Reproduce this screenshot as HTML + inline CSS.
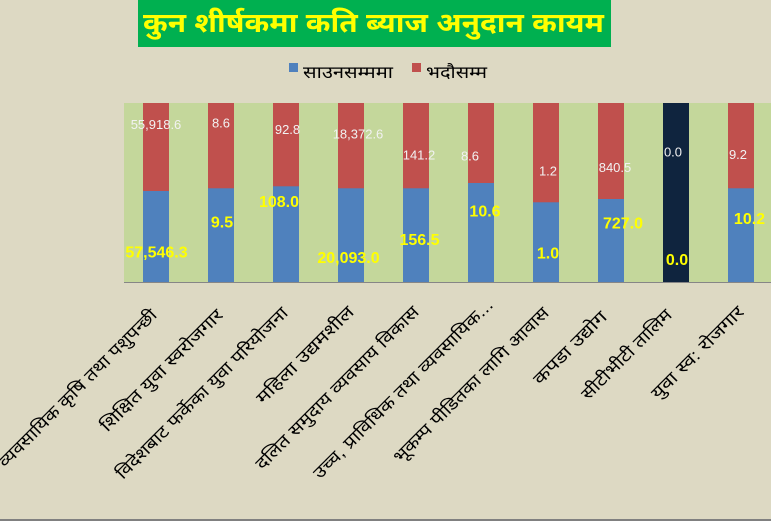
<!DOCTYPE html>
<html>
<head>
<meta charset="utf-8">
<style>
html,body{margin:0;padding:0;background:#DDD9C3;}
svg{display:block;}
.dev{font-family:"Liberation Sans","Noto Sans Devanagari","Mangal","Lohit Devanagari","FreeSans",sans-serif;}
.wl{font-family:"Liberation Sans",sans-serif;font-size:13px;fill:#F2F2F2;text-anchor:middle;}
.yl{font-family:"Liberation Sans",sans-serif;font-size:16px;font-weight:bold;fill:#FFFF00;text-anchor:middle;}
.xl{font-size:17px;fill:#000;text-anchor:end;}
</style>
</head>
<body>
<svg width="771" height="521" viewBox="0 0 771 521" xmlns="http://www.w3.org/2000/svg">
  <rect x="0" y="0" width="771" height="521" fill="#DDD9C3"/>
  <!-- title -->
  <rect x="138" y="0" width="473" height="47" fill="#00B050"/>
  <text class="dev" x="143" y="32" font-size="27" font-weight="bold" fill="#FFFF00" textLength="461" lengthAdjust="spacingAndGlyphs">कुन शीर्षकमा कति ब्याज अनुदान कायम</text>

  <!-- legend -->
  <rect x="289" y="63" width="9" height="9" fill="#4F81BD"/>
  <text class="dev" x="303" y="78" font-size="17" fill="#000" textLength="90" lengthAdjust="spacingAndGlyphs">साउनसम्ममा</text>
  <rect x="412" y="63" width="9" height="9" fill="#C0504D"/>
  <text class="dev" x="426" y="78" font-size="17" fill="#000" textLength="61" lengthAdjust="spacingAndGlyphs">भदौसम्म</text>

  <!-- plot area -->
  <rect x="124" y="103" width="650" height="179" fill="#C4D79B"/>

  <!-- bars: red full, blue bottom -->
  <g>
    <rect x="143" y="103" width="26" height="179" fill="#C0504D"/>
    <rect x="143" y="191" width="26" height="91" fill="#4F81BD"/>

    <rect x="208" y="103" width="26" height="179" fill="#C0504D"/>
    <rect x="208" y="188.3" width="26" height="93.7" fill="#4F81BD"/>

    <rect x="273" y="103" width="26" height="179" fill="#C0504D"/>
    <rect x="273" y="186.3" width="26" height="95.7" fill="#4F81BD"/>

    <rect x="338" y="103" width="26" height="179" fill="#C0504D"/>
    <rect x="338" y="188.3" width="26" height="93.7" fill="#4F81BD"/>

    <rect x="403" y="103" width="26" height="179" fill="#C0504D"/>
    <rect x="403" y="188.3" width="26" height="93.7" fill="#4F81BD"/>

    <rect x="468" y="103" width="26" height="179" fill="#C0504D"/>
    <rect x="468" y="183" width="26" height="99" fill="#4F81BD"/>

    <rect x="533" y="103" width="26" height="179" fill="#C0504D"/>
    <rect x="533" y="202.3" width="26" height="79.7" fill="#4F81BD"/>

    <rect x="598" y="103" width="26" height="179" fill="#C0504D"/>
    <rect x="598" y="199" width="26" height="83" fill="#4F81BD"/>

    <rect x="663" y="103" width="26" height="179" fill="#0F243E"/>

    <rect x="728" y="103" width="26" height="179" fill="#C0504D"/>
    <rect x="728" y="188.3" width="26" height="93.7" fill="#4F81BD"/>
  </g>

  <!-- axis line -->
  <line x1="124" y1="282.5" x2="771" y2="282.5" stroke="#868686" stroke-width="1"/>

  <!-- white labels (red segment) -->
  <text class="wl" x="156" y="129">55,918.6</text>
  <text class="wl" x="221" y="127.3">8.6</text>
  <text class="wl" x="287.5" y="134">92.8</text>
  <text class="wl" x="358" y="138.3">18,372.6</text>
  <text class="wl" x="419" y="159.6">141.2</text>
  <text class="wl" x="470" y="160.3">8.6</text>
  <text class="wl" x="548" y="175.6">1.2</text>
  <text class="wl" x="615" y="172">840.5</text>
  <text class="wl" x="673" y="156.3">0.0</text>
  <text class="wl" x="738" y="159">9.2</text>

  <!-- yellow labels (blue segment) -->
  <text class="yl" x="156.5" y="257.5">57,546.3</text>
  <text class="yl" x="222" y="227.5">9.5</text>
  <text class="yl" x="279" y="206.8">108.0</text>
  <text class="yl" x="348.5" y="263">20,093.0</text>
  <text class="yl" x="419.5" y="245">156.5</text>
  <text class="yl" x="485" y="216.5">10.6</text>
  <text class="yl" x="548" y="258.5">1.0</text>
  <text class="yl" x="623" y="228.5">727.0</text>
  <text class="yl" x="677" y="265">0.0</text>
  <text class="yl" x="749.5" y="224">10.2</text>

  <!-- x axis category labels, rotated -45 -->
  <g class="dev">
    <text class="xl" transform="translate(158,316) rotate(-45)" x="0" y="0" textLength="216" lengthAdjust="spacingAndGlyphs">व्यवसायिक कृषि तथा पशुपन्छी</text>
    <text class="xl" transform="translate(224,316) rotate(-45)" x="0" y="0" textLength="165" lengthAdjust="spacingAndGlyphs">शिक्षित युवा स्वरोजगार</text>
    <text class="xl" transform="translate(289,314) rotate(-45)" x="0" y="0" textLength="235" lengthAdjust="spacingAndGlyphs">विदेशबाट फर्केका युवा परियोजना</text>
    <text class="xl" transform="translate(355,313) rotate(-45)" x="0" y="0" textLength="130" lengthAdjust="spacingAndGlyphs">महिला उद्यमशील</text>
    <text class="xl" transform="translate(420,313) rotate(-45)" x="0" y="0" textLength="223" lengthAdjust="spacingAndGlyphs">दलित समुदाय व्यवसाय विकास</text>
    <text class="xl" transform="translate(494,306) rotate(-45)" x="0" y="0" textLength="246" lengthAdjust="spacingAndGlyphs">उच्च, प्राविधिक तथा व्यवसायिक...</text>
    <text class="xl" transform="translate(550,314) rotate(-45)" x="0" y="0" textLength="212" lengthAdjust="spacingAndGlyphs">भूकम्प पीडितका लागि आवास</text>
    <text class="xl" transform="translate(608,318) rotate(-45)" x="0" y="0" textLength="96" lengthAdjust="spacingAndGlyphs">कपडा उद्योग</text>
    <text class="xl" transform="translate(673,316) rotate(-45)" x="0" y="0" textLength="120" lengthAdjust="spacingAndGlyphs">सीटीभीटी तालिम</text>
    <text class="xl" transform="translate(745,313) rotate(-45)" x="0" y="0" textLength="123" lengthAdjust="spacingAndGlyphs">युवा स्व: रोजगार</text>
  </g>

  <!-- bottom border -->
  <rect x="0" y="519" width="771" height="2" fill="#808080"/>
</svg>
</body>
</html>
